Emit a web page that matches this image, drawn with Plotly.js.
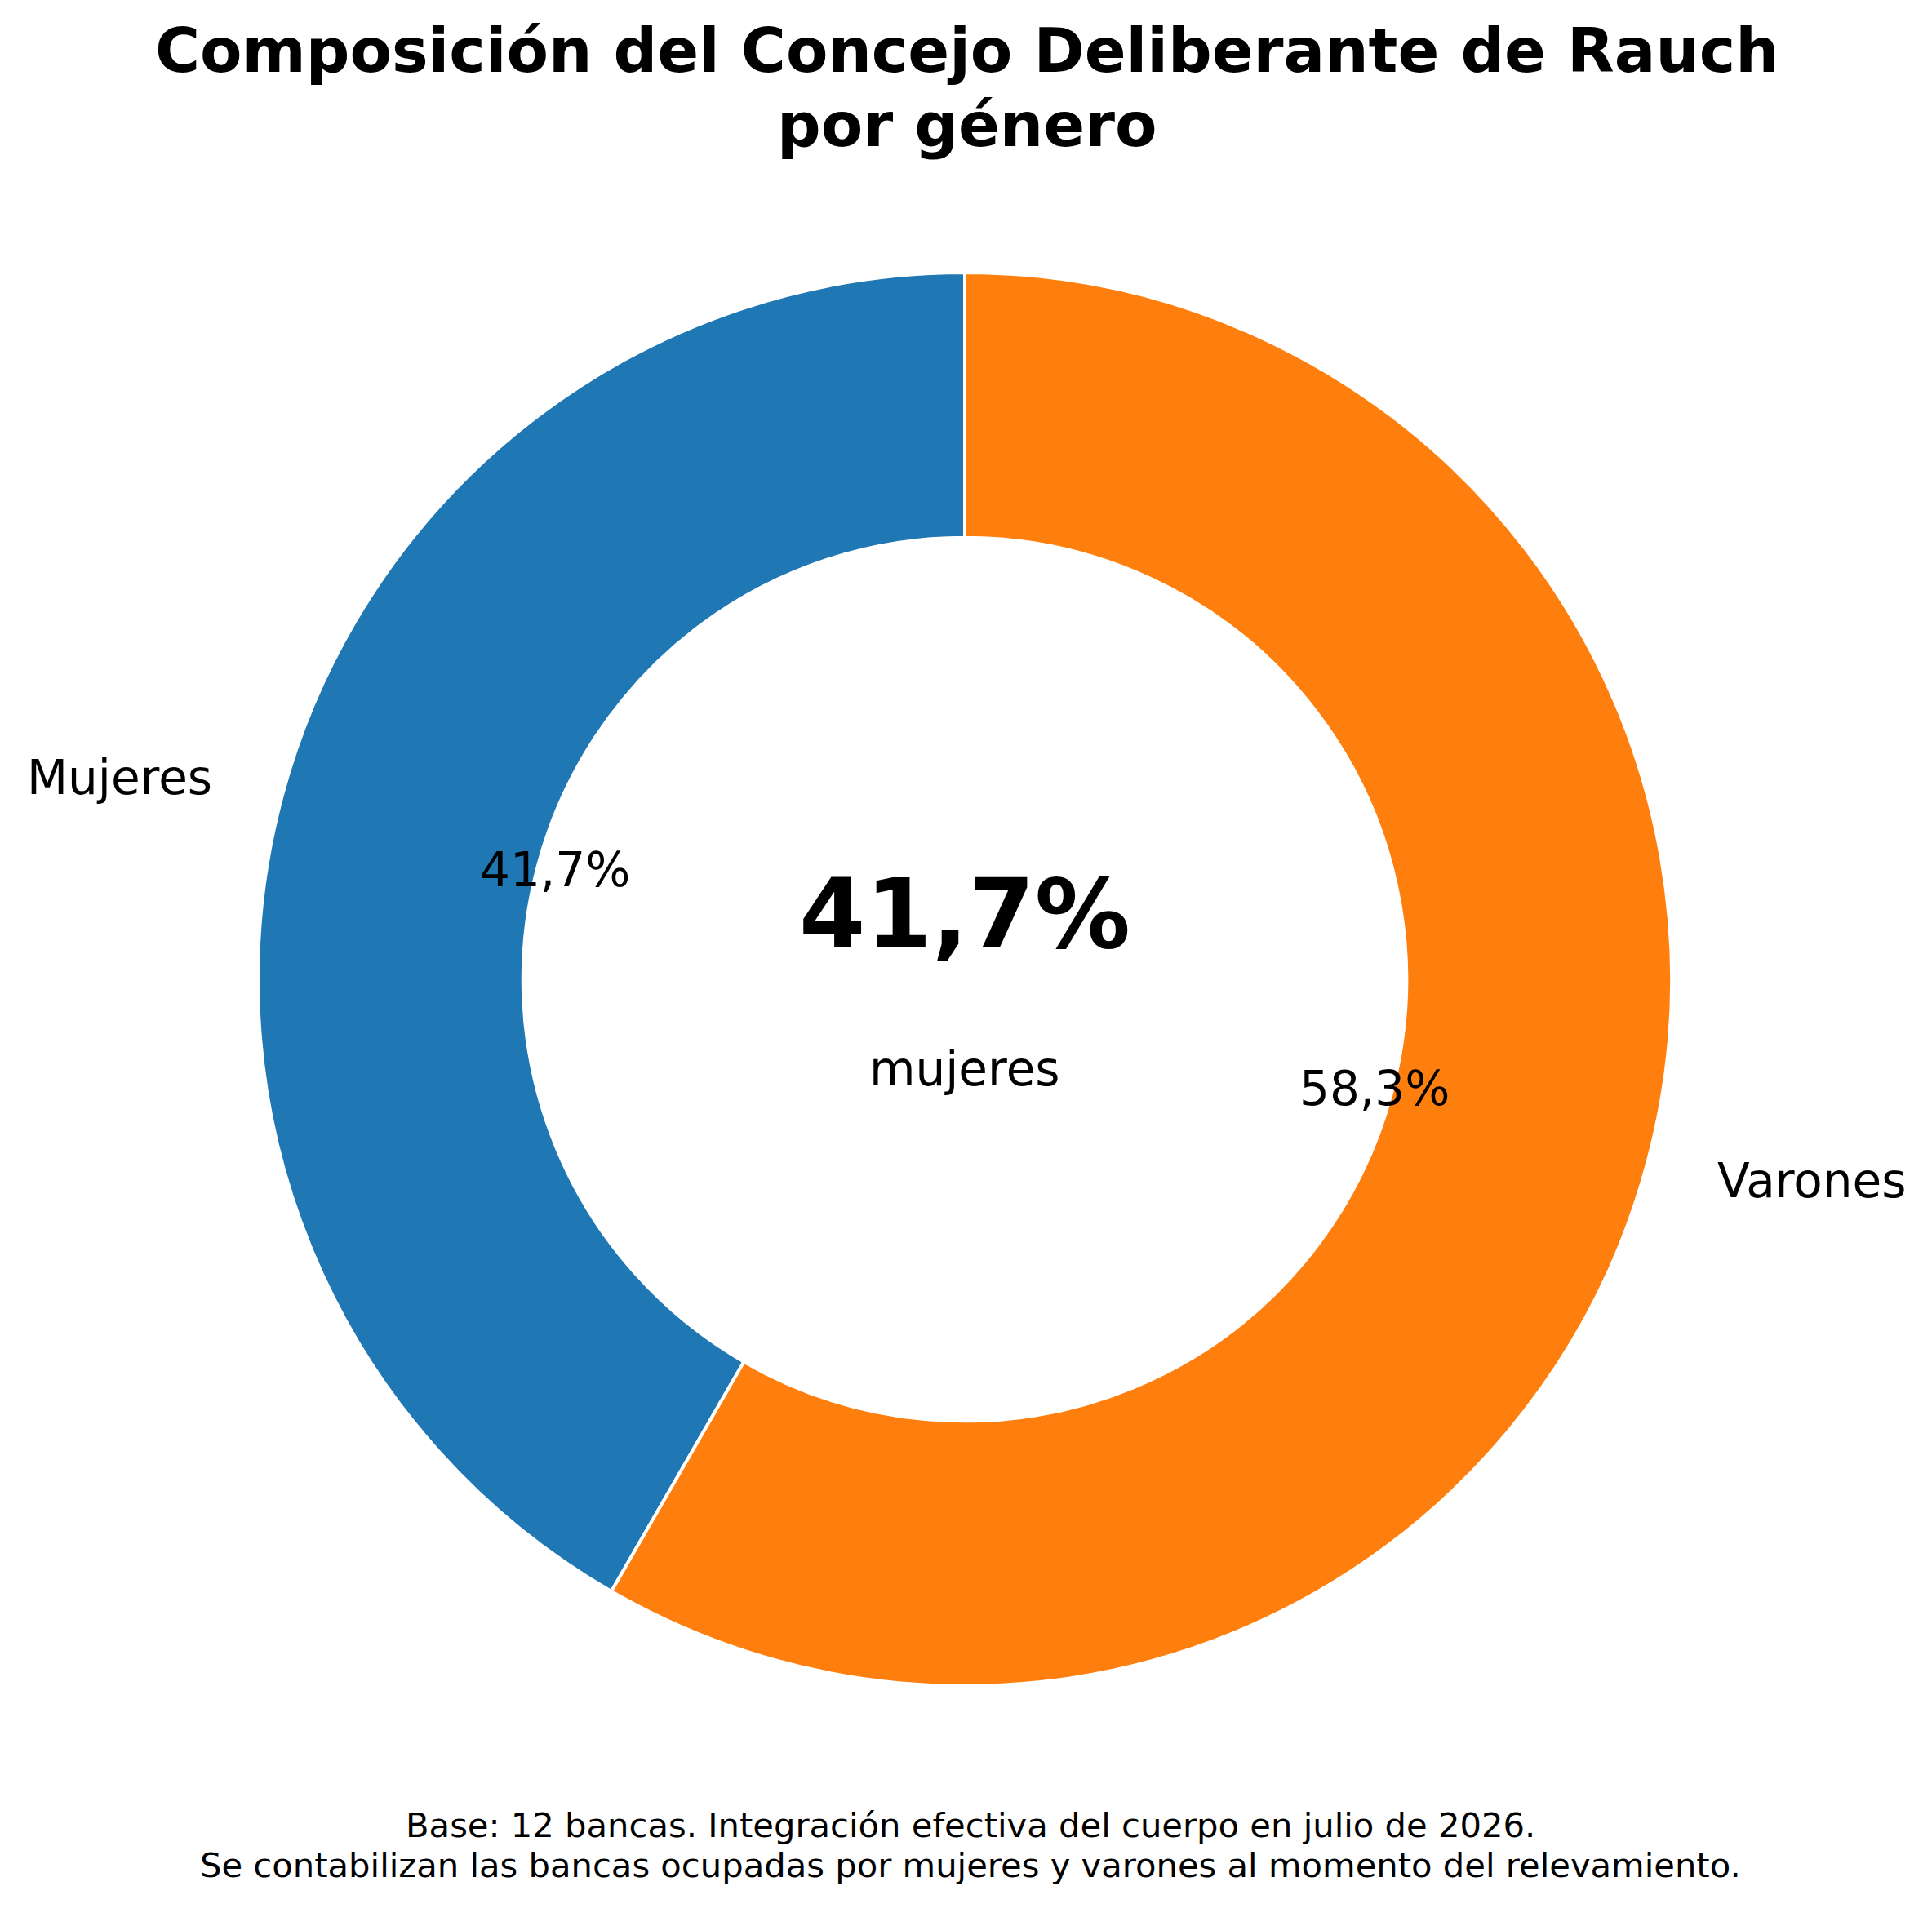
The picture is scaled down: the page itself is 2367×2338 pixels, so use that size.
<!DOCTYPE html>
<html>
<head>
<meta charset="utf-8">
<script src="https://cdn.plot.ly/plotly-3.0.1.min.js"></script>
<style>
  html, body { margin: 0; padding: 0; background: #ffffff; }
  #chart { width: 2367px; height: 2338px; }
</style>
</head>
<body>
<div id="chart"></div>
<script>
// datos
var generos = ["Mujeres", "Varones"];
var bancas = [5, 7];
var colores = ["#1f77b4", "#ff7f0e"];
var centroEtiqueta = "mujeres";
var titulo = ["Composición del Concejo Deliberante de Rauch", "por género"];
var notas = [
    "Base: 12 bancas. Integración efectiva del cuerpo en julio de 2026.",
    "Se contabilizan las bancas ocupadas por mujeres y varones al momento del relevamiento."
];

var W = 2367, H = 2338;
var CX = 1182, CY = 1200, R = 866;
var FONT = "DejaVu Sans, Verdana, sans-serif";

function pct(v, total) {
    return (v / total * 100).toFixed(1).replace(".", ",") + "%";
}

window.drawDonut = () => {

    var div = document.getElementById("chart");

    var total = bancas.reduce((a, b) => a + b, 0);

    // Mujeres a la izquierda: arranca en sentido horario desde el final de su arco
    var giro = -360 * bancas[0] / total;

    var pieData = [
        {
            type: "pie",
            labels: generos,
            values: bancas,
            sort: false,
            direction: "clockwise",
            rotation: giro,
            hole: 0.625,
            textinfo: "none",
            hoverinfo: "label+value+percent",
            marker: { colors: colores, line: { color: "#ffffff", width: 4 } },
            domain: { x: [(CX - R) / W, (CX + R) / W], y: [1 - (CY + R) / H, 1 - (CY - R) / H] },
            showlegend: false
        }
    ];

    var ann = [];

    // etiquetas y porcentajes, a partir de los angulos de cada porcion
    var acum = 0;
    for (var i = 0; i < bancas.length; i++) {
        var frac = bancas[i] / total;
        var mid = (90 + (acum + frac / 2) * 360) * Math.PI / 180;
        acum += frac;
        var cx = Math.cos(mid), sy = Math.sin(mid);

        ann.push({
            x: (CX + 1.1 * R * cx) / W, y: 1 - (CY - 1.1 * R * sy) / H,
            xref: "paper", yref: "paper", showarrow: false,
            xanchor: cx < 0 ? "right" : "left", yanchor: "middle",
            text: generos[i], font: { family: FONT, size: 58, color: "#000000" }
        });
        ann.push({
            x: (CX + 0.6 * R * cx) / W, y: 1 - (CY - 0.6 * R * sy) / H,
            xref: "paper", yref: "paper", showarrow: false,
            xanchor: "center", yanchor: "middle",
            text: pct(bancas[i], total), font: { family: FONT, size: 58, color: "#000000" }
        });
    }

    // texto central
    ann.push({
        x: CX / W, y: 1 - 1120 / H, xref: "paper", yref: "paper", showarrow: false,
        xanchor: "center", yanchor: "middle",
        text: "<b>" + pct(bancas[0], total) + "</b>",
        font: { family: FONT, size: 117, color: "#000000" }
    });
    ann.push({
        x: CX / W, y: 1 - 1310 / H, xref: "paper", yref: "paper", showarrow: false,
        xanchor: "center", yanchor: "middle",
        text: centroEtiqueta, font: { family: FONT, size: 58, color: "#000000" }
    });

    // titulo
    var tituloY = [62, 153];
    for (var t = 0; t < titulo.length; t++) {
        ann.push({
            x: 1185 / W, y: 1 - tituloY[t] / H, xref: "paper", yref: "paper", showarrow: false,
            xanchor: "center", yanchor: "middle",
            text: "<b>" + titulo[t] + "</b>",
            font: { family: FONT, size: 75, color: "#000000" }
        });
    }

    // notas al pie
    var notasY = [2236, 2285];
    for (var n = 0; n < notas.length; n++) {
        ann.push({
            x: 1189 / W, y: 1 - notasY[n] / H, xref: "paper", yref: "paper", showarrow: false,
            xanchor: "center", yanchor: "middle",
            text: notas[n], font: { family: FONT, size: 41.7, color: "#000000" }
        });
    }

    var layout = {
        width: W,
        height: H,
        margin: { t: 0, r: 0, l: 0, b: 0 },
        paper_bgcolor: "#ffffff",
        plot_bgcolor: "#ffffff",
        font: { family: FONT, color: "#000000" },
        annotations: ann
    };

    var config = { responsive: false, displaylogo: false, displayModeBar: false };

    Plotly.newPlot(div, pieData, layout, config);
};

window.drawDonut();
</script>
</body>
</html>
